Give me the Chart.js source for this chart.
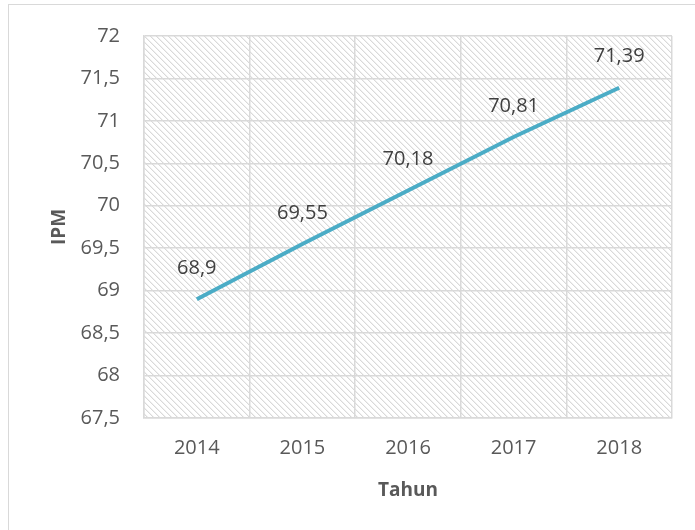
<!DOCTYPE html>
<html>
<head>
<meta charset="utf-8">
<script src="https://cdn.jsdelivr.net/npm/chart.js@4.4.1/dist/chart.umd.min.js"></script>
<style>
  html, body { margin: 0; padding: 0; background: #ffffff; }
  #wrap { position: relative; width: 695px; height: 530px; }
  #frame { position: absolute; left: 8px; top: 4px; width: 700px; height: 540px; border: 1px solid #d9d9d9; box-sizing: border-box; pointer-events: none; }
  canvas { position: absolute; left: 0; top: 0; }
</style>
</head>
<body>
<div id="wrap">
  <canvas id="c" width="695" height="530"></canvas>
  <div id="frame"></div>
</div>
<script>
const years = ['2014', '2015', '2016', '2017', '2018'];
const ipmValues = [68.9, 69.55, 70.18, 70.81, 71.39];
const valueLabels = ['68,9', '69,55', '70,18', '70,81', '71,39'];
const yMin = 67.5, yMax = 72, yStep = 0.5;

const FONT = '"Open Sans", "Noto Sans", sans-serif';

function makeHatch() {
  const p = document.createElement('canvas');
  p.width = 6; p.height = 6;
  const g = p.getContext('2d');
  g.fillStyle = '#ffffff';
  g.fillRect(0, 0, 6, 6);
  g.fillStyle = '#d9d9d9';
  for (let i = 0; i < 6; i++) {
    g.fillRect(i, i, 1, 1);
  }
  g.fillStyle = '#f0f0f0';
  for (let i = 0; i < 6; i++) {
    g.fillRect((i + 1) % 6, i, 1, 1);
  }
  return p;
}

const hatchPlugin = {
  id: 'hatchBg',
  beforeDraw(chart) {
    const { ctx, chartArea: a } = chart;
    ctx.save();
    ctx.fillStyle = ctx.createPattern(makeHatch(), 'repeat');
    ctx.fillRect(a.left, a.top, a.right - a.left, a.bottom - a.top);
    ctx.restore();
  }
};

const labelPlugin = {
  id: 'valLabels',
  afterDatasetsDraw(chart) {
    const { ctx } = chart;
    const meta = chart.getDatasetMeta(0);
    ctx.save();
    ctx.font = '20px ' + FONT;
    ctx.fillStyle = '#404040';
    ctx.textAlign = 'center';
    ctx.textBaseline = 'middle';
    meta.data.forEach((pt, i) => {
      ctx.fillText(valueLabels[i], pt.x, pt.y - 31);
    });
    ctx.restore();
  }
};

new Chart(document.getElementById('c'), {
  type: 'line',
  data: {
    labels: years,
    datasets: [{
      data: ipmValues,
      borderColor: '#4bacc6',
      borderWidth: 4,
      pointRadius: 0,
      tension: 0,
      fill: false
    }]
  },
  plugins: [hatchPlugin, labelPlugin],
  options: {
    responsive: false,
    animation: false,
    devicePixelRatio: 1,
    layout: { padding: { left: 0, right: 23, top: 34, bottom: 0 } },
    plugins: { legend: { display: false }, tooltip: { enabled: false } },
    scales: {
      x: {
        offset: true,
        grid: { offset: true, color: '#d9d9d9', lineWidth: 1.5, drawTicks: false },
        border: { color: '#d9d9d9', width: 1.5 },
        ticks: { color: '#595959', font: { family: FONT, size: 20 }, padding: 18 },
        title: { display: true, text: 'Tahun', color: '#595959', font: { family: FONT, size: 19, weight: 'bold' }, padding: { bottom: 28, top: 0 } },
        afterFit(s) { s.height = 112; }
      },
      y: {
        min: yMin, max: yMax,
        grid: { color: '#d9d9d9', lineWidth: 1.5, drawTicks: false },
        border: { color: '#d9d9d9', width: 1.5 },
        ticks: {
          stepSize: yStep,
          color: '#595959',
          font: { family: FONT, size: 20 },
          padding: 24,
          callback: (v) => String(v).replace('.', ',')
        },
        title: { display: true, text: 'IPM', color: '#595959', font: { family: FONT, size: 19, weight: 'bold' }, padding: { top: 48, bottom: 0 } },
        afterFit(s) { s.width = 144; }
      }
    }
  }
});
</script>
</body>
</html>
